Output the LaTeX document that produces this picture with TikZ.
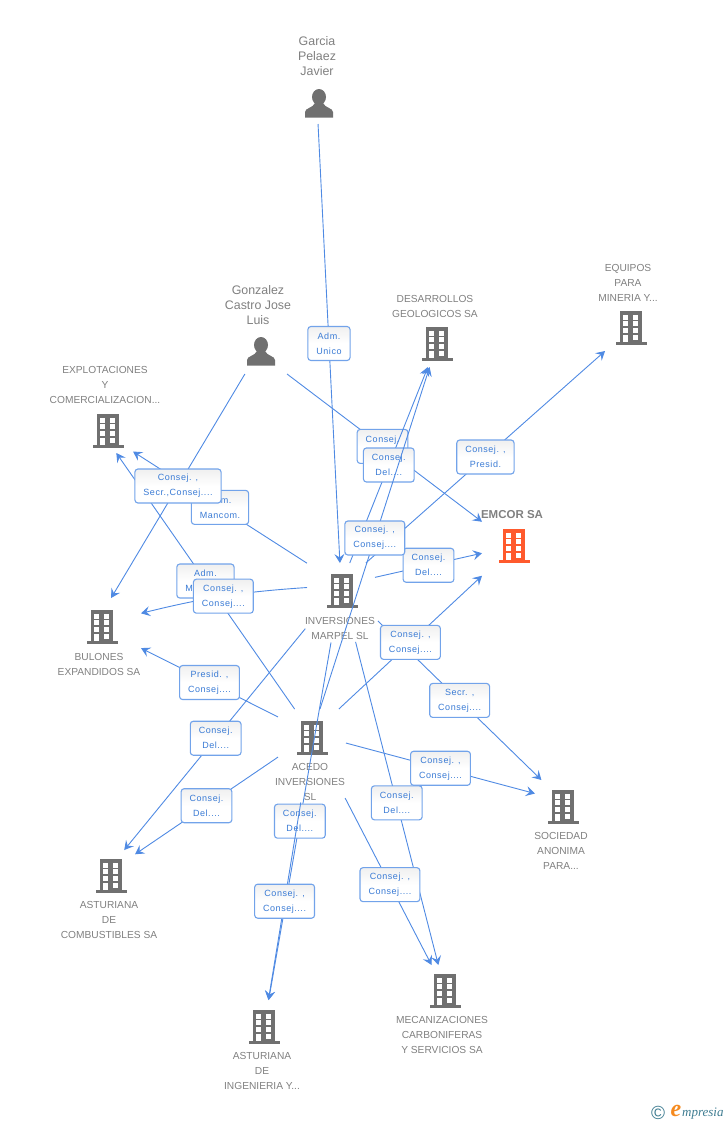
\documentclass[tikz,border=0pt]{standalone}
\usepackage{fontspec}
\setmainfont{Liberation Sans}
\newfontfamily\rolefont[LetterSpace=6]{Liberation Sans}
\newfontfamily\logofont{Liberation Serif}
\usetikzlibrary{arrows.meta}
\definecolor{hubgray}{HTML}{707070}
\definecolor{textgray}{HTML}{808080}
\definecolor{hubred}{HTML}{FF5A2D}
\definecolor{linkblue}{HTML}{4F8AE3}
\definecolor{boxblue}{HTML}{72A3EA}
\definecolor{roleblue}{HTML}{3A7BD5}
\definecolor{logoteal}{HTML}{3E7C91}
\definecolor{logoorange}{HTML}{F58A1F}
\tikzset{
    entity/.style={
    rectangle,inner sep=0pt,outer sep=0pt,minimum width=64pt,minimum height=50pt
    },
    caption/.style={
    align=center,text=textgray,inner sep=0pt,font=\fontsize{10.2}{15}\selectfont
    },
    fullname/.style={
    caption,font=\fontsize{12.4}{15}\selectfont
    },
    role/.style={
    rectangle,rounded corners=3pt,draw=boxblue,line width=1.1pt,top color=black!6,bottom color=white,middle color=white,
    align=center,text=roleblue,inner xsep=8.5pt,inner ysep=0pt,minimum height=34pt,font=\rolefont\fontsize{9}{15}\selectfont
    },
    link/.style={
    color=linkblue,draw=linkblue,line width=0.9pt,-{Stealth[length=9pt,width=10pt,inset=3.5pt,color=linkblue]}
    },
    building/.pic={
    \fill[#1] (-11,-16.7) rectangle (11,14);
    \fill[#1] (-15.5,14) rectangle (15.5,16.7);
    \foreach \wy in {-13.3,-6.7,0}
      {\fill[white] (-7.7,\wy) rectangle (-2.7,\wy+5);
       \fill[white] (2.3,\wy) rectangle (7.3,\wy+5);}
    \fill[white] (-7.7,6.7) rectangle (-2.7,14);
    \fill[white] (2.3,6.7) rectangle (7.3,11.7);
    },
    person/.pic={
    \fill[hubgray] (0,-7) ellipse (7 and 8);
    \fill[hubgray] (-14,13.5) -- (-14,8) .. controls (-14,4) and (-6,4) .. (-4,-1) -- (4,-1) .. controls (6,4) and (14,4) .. (14,8) -- (14,13.5) -- cycle;
    },
}
\begin{document}
\begin{tikzpicture}[x=1pt,y=-1pt]
   \useasboundingbox (0,0) rectangle (728,1125);

   \node[entity,minimum height=42pt] (garcia) at (317,103) {};
   \node[entity,minimum height=44pt] (gonzalez) at (258,352) {};
   \node[entity,minimum height=46pt] (desarrollos) at (437,344) {};
   \node[entity,minimum height=46pt] (equipos) at (631,328) {};
   \node[entity,minimum height=44pt] (explotaciones) at (101,431) {};
   \node[entity,minimum height=64pt] (emcor) at (514,546) {};
   \node[entity,minimum width=68pt,minimum height=44pt] (marpel) at (341,585) {};
   \node[entity,minimum width=92pt,minimum height=54pt] (bulones) at (95,625) {};
   \node[entity,minimum width=68pt,minimum height=50pt] (acedo) at (312,734) {};
   \node[entity,minimum width=56pt,minimum height=42pt] (sociedad) at (563,801) {};
   \node[entity,minimum height=52pt] (combustibles) at (103,876) {};
   \node[entity,minimum height=52pt] (mecanizaciones) at (445,991) {};
   \node[entity,minimum height=54pt] (ingenieria) at (264,1027) {};

   \pic at (319,104) {person};
   \pic at (261,352) {person};
   \pic at (437,344) {building=hubgray};
   \pic at (631,328) {building=hubgray};
   \pic at (108,431) {building=hubgray};
   \pic at (514,546) {building=hubred};
   \pic at (342,591) {building=hubgray};
   \pic at (102,627) {building=hubgray};
   \pic at (312,738) {building=hubgray};
   \pic at (563,807) {building=hubgray};
   \pic at (111,876) {building=hubgray};
   \pic at (445,991) {building=hubgray};
   \pic at (264,1027) {building=hubgray};

   \node[fullname] (garciatxt) at (317,56) {Garcia\\Pelaez\\Javier};
   \node[fullname] (gonzaleztxt) at (258,305) {Gonzalez\\Castro Jose\\Luis};
   \node[caption] (desarrollostxt) at (435,306) {DESARROLLOS\\GEOLOGICOS SA};
   \node[caption] (equipostxt) at (628,283) {EQUIPOS\\PARA\\MINERIA Y...};
   \node[caption] (explotacionestxt) at (105,385) {EXPLOTACIONES\\Y\\COMERCIALIZACION...};
   \node[caption,font=\fontsize{11.5}{15}\selectfont\bfseries] (emcortxt) at (512,515) {EMCOR SA};
   \node[caption] (marpeltxt) at (340,628) {INVERSIONES\\MARPEL SL};
   \node[caption] (bulonestxt) at (99,664) {BULONES\\EXPANDIDOS SA};
   \node[caption] (acedotxt) at (310,782) {ACEDO\\INVERSIONES\\SL};
   \node[caption] (sociedadtxt) at (561,851) {SOCIEDAD\\ANONIMA\\PARA...};
   \node[caption] (combustiblestxt) at (109,920) {ASTURIANA\\DE\\COMBUSTIBLES SA};
   \node[caption] (mecanizacionestxt) at (442,1035) {MECANIZACIONES\\CARBONIFERAS\\Y SERVICIOS SA};
   \node[caption] (ingenieriatxt) at (262,1071) {ASTURIANA\\DE\\INGENIERIA Y...};

  \path[link]
    (garcia) edge node[role] {Adm.\\Unico} (marpel)
    (gonzalez) edge node[role,pos=0.49] {Consej.\\Del....} (emcor)
    (marpel) edge node[role] {Consej.\\Del....} (desarrollos)
        edge node[role] {Adm.\\Mancom.} (explotaciones)
    (acedo) edge node[role] {Adm.\\Mancom.} (explotaciones)
    (gonzalez) edge node[role] {Consej. ,\\Secr.,Consej....} (bulones)
    (marpel) edge[bend right=5] node[role] {Consej. ,\\Consej....} (bulones)
        edge node[role] {Consej. ,\\Presid.} (equipos)
        edge node[role] {Consej.\\Del....} (emcor)
        edge[shorten <=20pt] node[role,pos=0.54] {Secr. ,\\Consej....} (sociedad)
    (acedo) edge node[role] {Consej. ,\\Consej....} (desarrollos)
        edge node[role] {Consej. ,\\Consej....} (emcor)
        edge node[role] {Consej. ,\\Consej....} (sociedad)
        edge node[role] {Presid. ,\\Consej....} (bulones)
        edge node[role] {Consej.\\Del....} (combustibles)
    (marpel) edge[shorten <=28pt] node[role,pos=0.54] {Consej.\\Del....} (combustibles)
        edge[shorten <=36pt] node[role,pos=0.547] {Consej.\\Del....} (mecanizaciones)
        edge[shorten <=36pt] node[role,pos=0.545] {Consej.\\Del....} (ingenieria)
    (acedo) edge[shorten <=44pt] node[role,pos=0.61] {Consej. ,\\Consej....} (mecanizaciones)
        edge[shorten <=44pt] node[role,pos=0.59] {Consej. ,\\Consej....} (ingenieria);

   \node[text=logoteal,font=\fontsize{19}{19}\selectfont,inner sep=0pt] (logoc) at (658,1113) {©};
   \node[text=logoorange,font=\logofont\itshape\bfseries\fontsize{24}{24}\selectfont,inner sep=0pt] (logoe) at (676,1111) {e};
   \node[text=logoteal,font=\logofont\itshape\fontsize{13}{13}\selectfont,inner sep=0pt,anchor=west] (logotxt) at (682,1114) {mpresia};
\end{tikzpicture}
\end{document}
